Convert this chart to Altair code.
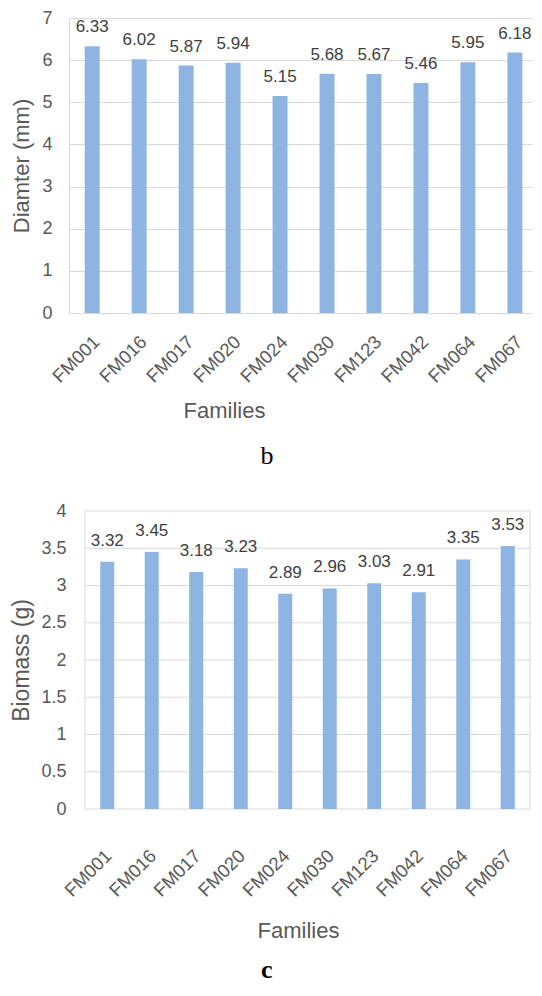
import altair as alt
import pandas as pd

families = ["FM001", "FM016", "FM017", "FM020", "FM024",
            "FM030", "FM123", "FM042", "FM064", "FM067"]
diameter = [6.33, 6.02, 5.87, 5.94, 5.15, 5.68, 5.67, 5.46, 5.95, 6.18]
biomass = [3.32, 3.45, 3.18, 3.23, 2.89, 2.96, 3.03, 2.91, 3.35, 3.53]
diameter_ticks = [0, 1, 2, 3, 4, 5, 6, 7]
biomass_ticks = [0, 0.5, 1, 1.5, 2, 2.5, 3, 3.5, 4]

FONT = "Liberation Sans"
SERIF = "Liberation Serif"
BAR = "#8EB4E3"
GRID = "#D9D9D9"
AX = "#595959"
LBL = "#404040"


def panel(values, ytitle, ticks, width, height, pin, pout, palign,
          xlab_pad, xlab_off, xt_x, xt_y, ylab_pad, yt_pad, yt_size, lbl_dy,
          caption, cap_dx, cap_off, cap_weight, frame_left=None):
    df = pd.DataFrame({"Family": families, "Value": values})
    own_frame = frame_left is None
    x = alt.X(
        "Family:N", sort=families,
        scale=alt.Scale(paddingInner=pin, paddingOuter=pout, align=palign),
        axis=alt.Axis(
            title="Families", labelAngle=-45, labelAlign="right",
            labelBaseline="top", labelOffset=xlab_off, labelPadding=xlab_pad,
            labelFont=FONT, labelFontSize=18.5, labelColor=AX, ticks=False,
            domain=own_frame, domainColor=GRID, titleFont=FONT,
            titleFontSize=22, titleColor=AX, titleFontWeight="normal",
            titleX=xt_x, titleY=xt_y, titleBaseline="middle",
            titleAlign="center"),
    )
    y = alt.Y(
        "Value:Q",
        scale=alt.Scale(domain=[ticks[0], ticks[-1]], nice=False),
        axis=alt.Axis(
            title=ytitle, values=ticks, format="~g", grid=own_frame,
            gridColor=GRID, ticks=False, domain=own_frame,
            domainColor=GRID, labelFont=FONT, labelFontSize=18,
            labelColor=AX, labelPadding=ylab_pad, labelFlush=False,
            labelOverlap=False, labelBaseline="middle", titleFont=FONT,
            titleFontSize=yt_size, titleColor=AX, titleFontWeight="normal",
            titlePadding=yt_pad),
    )
    layers = []
    if not own_frame:
        grid_df = pd.DataFrame({"Value": ticks})
        layers.append(
            alt.Chart(grid_df).mark_rule(color=GRID, strokeWidth=1).encode(
                y=y, x=alt.value(frame_left), x2=alt.value(width)))
        edge_df = pd.DataFrame({"edge": ["left", "right"],
                                "px": [frame_left, width]})
        layers.append(
            alt.Chart(edge_df).mark_rule(color=GRID, strokeWidth=1).encode(
                x=alt.X("px:Q", scale=None),
                y=alt.value(0), y2=alt.value(height)))
    bars = alt.Chart(df).mark_bar(color=BAR).encode(x=x, y=y)
    labels = alt.Chart(df).mark_text(
        font=FONT, fontSize=17, color=LBL, baseline="alphabetic", dy=lbl_dy
    ).encode(
        x=x,
        y=y,
        text=alt.Text("Value:Q", format=".2f"),
    )
    layers += [bars, labels]
    return alt.layer(*layers).properties(
        width=width, height=height,
        view=alt.ViewBackground(stroke="transparent"),
        title=alt.TitleParams(
            text=caption, orient="bottom", anchor="middle", frame="group",
            font=SERIF, fontSize=26, fontWeight=cap_weight, color="black",
            dx=cap_dx, offset=cap_off),
    )


top = panel(diameter, "Diamter (mm)", diameter_ticks, 463, 295,
            0.6816, 0.27, 0.62, 19, -2, 155, 97, 17, 8, 22, -14,
            "b", -33.5, 22, "normal")
bottom = panel(biomass, "Biomass (g)", biomass_ticks, 461, 298,
               0.6854, 0.5225, 0.672, 37, -5, 229, 121, 3, 7, 23, -16,
               "c", -32.75, 16, "bold", frame_left=16)

chart = alt.vconcat(top, bottom, spacing=31).properties(
    padding={"top": 0, "left": 2, "right": 0, "bottom": 0}
).configure_view(strokeWidth=1)

chart.save("out.html", embed_options={"renderer": "svg", "actions": False})
